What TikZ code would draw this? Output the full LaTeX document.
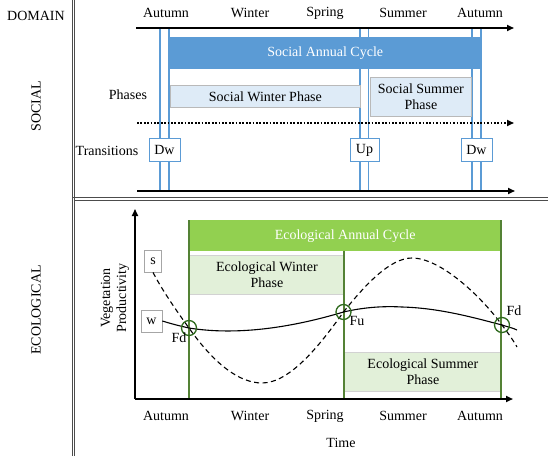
\documentclass[tikz,border=0pt]{standalone}
\usepackage{fontspec}
\setmainfont{Liberation Serif}
\usetikzlibrary{arrows.meta}
\definecolor{sblue}{HTML}{5B9BD5}
\definecolor{sbluel}{HTML}{DEEBF7}
\definecolor{egreen}{HTML}{92D050}
\definecolor{egreenl}{HTML}{E2F0D9}
\definecolor{edark}{HTML}{548235}
\definecolor{ecirc}{HTML}{2F6A1E}
\begin{document}
\begin{tikzpicture}[x=1pt,y=-1pt,
  every node/.style={font=\fontsize{14}{15.5}\selectfont, inner sep=0pt},
  axisarrow/.style={line width=1.6pt, -{Triangle[length=7pt,width=6pt]}},
  bluev/.style={sblue, line width=1.4pt},
  greenv/.style={edark, line width=1.4pt},
  tbox/.style={draw=sblue, fill=white, line width=0.8pt, minimum width=31pt, minimum height=23pt},
  ptbox/.style={draw=gray!70, fill=white, line width=0.8pt, minimum height=22pt},
  sphase/.style={draw=gray!55, fill=sbluel, line width=0.8pt, align=center},
  ephase/.style={draw=gray!35, fill=egreenl, line width=0.8pt, align=center},
  fcirc/.style={draw=ecirc, line width=1.3pt, circle, minimum size=15pt, fill=none},
]
\useasboundingbox (0,0) rectangle (550,461);
% frame lines
\draw[gray!60!black, line width=1pt] (72,0) -- (72,456);
\draw[gray!60!black, line width=1pt] (74.5,0) -- (74.5,456);
\draw[gray!60!black, line width=1pt] (72,197) -- (548,197);
\draw[gray!60!black, line width=1pt] (74.5,200) -- (548,200);
% domain labels
\node (dom) at (36,16) {DOMAIN};
\node[rotate=90] (soc) at (36,106) {SOCIAL};
\node[rotate=90] (eco) at (36,310) {ECOLOGICAL};
% top seasons
\node (ta1) at (166,13) {Autumn};
\node (tw) at (250,13) {Winter};
\node (tsp) at (325,13) {Spring};
\node (tsu) at (403,13) {Summer};
\node (ta2) at (480,13) {Autumn};
% social time arrows
\coordinate (t1s) at (136,28); \coordinate (t1e) at (514,28);
\coordinate (t2s) at (137,123); \coordinate (t2e) at (514,123);
\coordinate (t3s) at (137,191); \coordinate (t3e) at (515,191);
% blue double verticals
\foreach \x in {160,169,360,368.5,472,481}{
  \draw[bluev] (\x,28) -- (\x,191);
}
\draw[axisarrow] (t1s) -- (t1e);
\draw[axisarrow] (t3s) -- (t3e);
% social annual cycle
\node[fill=sblue, minimum width=312pt, minimum height=32pt, text=white, anchor=north west] (sac) at (169,37) {Social Annual Cycle};
% phases
\node (ph) at (128,95) {Phases};
\node[sphase, minimum width=190pt, minimum height=22pt, anchor=north west] (swp) at (170,85) {Social Winter Phase};
\node[sphase, minimum width=101pt, minimum height=39pt, anchor=north west] (ssp) at (370,77) {Social Summer\\Phase};
\draw[line width=1.6pt, dash pattern=on 1.7pt off 1.7pt, -{Triangle[length=7pt,width=6pt]}] (t2s) -- (t2e);
% transitions
\node (tr) at (107,151) {Transitions};
\node[tbox] (dw1) at (164.5,150) {Dw};
\node[tbox, minimum width=29pt] (up) at (364.5,150) {Up};
\node[tbox] (dw2) at (476.5,149.5) {Dw};
% ecological axes
\coordinate (org) at (135,399);
\coordinate (ytop) at (135,209);
\coordinate (xend) at (513,399);
% eco boxes
\node[fill=egreen, minimum width=312pt, minimum height=31pt, text=white, anchor=north west] (eac) at (189,220) {Ecological Annual Cycle};
\node[ephase, minimum width=155pt, minimum height=39pt, anchor=north west] (ewp) at (189,255) {Ecological Winter\\Phase};
\node[ephase, minimum width=157pt, minimum height=39pt, anchor=north west] (esp) at (344,352) {Ecological Summer\\Phase};
\draw[greenv] (189,220) -- (189,399);
\draw[greenv] (344,251) -- (344,399);
\draw[greenv] (501,220) -- (501,399);
\draw[axisarrow] (org) -- (ytop);
\draw[axisarrow] (org) -- (xend);
% y label
\node[rotate=90, align=center, font=\fontsize{14}{16}\selectfont] (vp) at (115,298) {Vegetation\\Productivity};
% s and w
\node[ptbox, minimum width=17pt] (s) at (153,261) {s};
\node[ptbox, minimum width=21pt] (w) at (151.5,321) {w};
% curves
\coordinate (fd1) at (189,328);
\coordinate (fu) at (343.5,312);
\coordinate (fd2) at (502,325);
\draw[line width=1.1pt] (w.east) .. controls (172,324) and (180,326) .. (fd1)
  .. controls (220,333) and (270,334) .. (fu)
  .. controls (365,307) and (385,306) .. (402,307)
  .. controls (440,308) and (475,318) .. (fd2)
  .. controls (508,327) and (513,328) .. (517,330);
\draw[line width=1.1pt, dash pattern=on 5pt off 3.5pt] (s.south) .. controls (162,290) and (178,313) .. (fd1)
  .. controls (215,365) and (240,383) .. (262,383)
  .. controls (290,383) and (320,345) .. (fu)
  .. controls (365,285) and (390,258) .. (412,258)
  .. controls (440,258) and (480,295) .. (fd2)
  .. controls (508,333) and (513,340) .. (517,347);
\node[fcirc] (c1) at (fd1) {};
\node[fcirc] (c2) at (fu) {};
\node[fcirc] (c3) at (fd2) {};
\node (lfd1) at (179,338) {Fd};
\node (lfu) at (357,321) {Fu};
\node (lfd2) at (514,311) {Fd};
% bottom seasons
\node (ba1) at (166,416) {Autumn};
\node (bw) at (250,416) {Winter};
\node (bsp) at (325,416) {Spring};
\node (bsu) at (403,416) {Summer};
\node (ba2) at (480,416) {Autumn};
\node (time) at (341,443) {Time};
\end{tikzpicture}
\end{document}
